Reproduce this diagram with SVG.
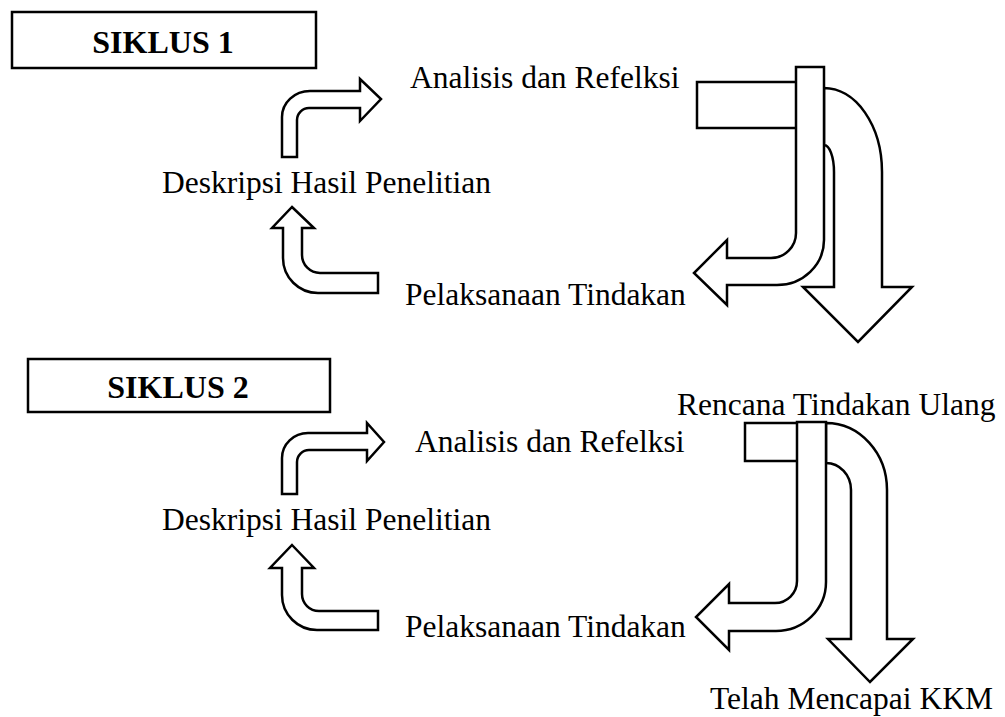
<svg xmlns="http://www.w3.org/2000/svg" width="1005" height="717" viewBox="0 0 1005 717">
<style>
.bg{fill:#fff}
.shape{fill:#fff;stroke:#000;stroke-width:2.5;stroke-linejoin:miter}
.box{fill:#fff;stroke:#000;stroke-width:2.5}
.t{font-family:"Liberation Serif","Times New Roman",serif;font-size:31.5px;fill:#000}
.tb{font-family:"Liberation Serif","Times New Roman",serif;font-size:32px;font-weight:bold;fill:#000;text-anchor:middle}
</style>
<rect class="bg" x="0" y="0" width="1005" height="717"/>

<g id="siklus1-title">
<rect class="box" x="12" y="12" width="304" height="56"/>
<text class="tb" x="163" y="53">SIKLUS 1</text>
</g>
<g id="s1-analisis"><text class="t" x="410" y="88">Analisis dan Refelksi</text></g>
<g id="s1-deskripsi"><text class="t" x="162" y="193">Deskripsi Hasil Penelitian</text></g>
<g id="s1-pelaksanaan"><text class="t" x="405" y="305">Pelaksanaan Tindakan</text></g>

<g id="siklus2-title">
<rect class="box" x="28" y="359" width="302" height="53"/>
<text class="tb" x="178" y="398">SIKLUS 2</text>
</g>
<g id="s2-rencana"><text class="t" x="677" y="415">Rencana Tindakan Ulang</text></g>
<g id="s2-analisis"><text class="t" x="415" y="452">Analisis dan Refelksi</text></g>
<g id="s2-deskripsi"><text class="t" x="162" y="530">Deskripsi Hasil Penelitian</text></g>
<g id="s2-pelaksanaan"><text class="t" x="405" y="637">Pelaksanaan Tindakan</text></g>
<g id="s2-kkm"><text class="t" x="710" y="709">Telah Mencapai KKM</text></g>

<g id="connectors">
<!-- Siklus 1 -->
<path class="shape" d="M282,157 L282,117 A28,26 0 0 1 310,91 L360,91 L360,79 L381,99 L360,121 L360,108 L309,108 A12,12 0 0 0 297,120 L297,157 Z"/>
<path class="shape" d="M292,207 L314,228 L302,228 L302,255 A18,18 0 0 0 320,273 L378,273 L378,293 L318,293 A35,35 0 0 1 283,258 L283,228 L272,228 Z"/>
<rect class="shape" x="697" y="82" width="110" height="46"/>
<path class="shape" d="M824,88 A58,84 0 0 1 882,172 L882,287 L912,287 L858,342 L803,287 L834,287 L834,172 A10,27 0 0 0 824,145 Z"/>
<path class="shape" d="M796,67 L824,67 L824,240 A47,45 0 0 1 777,285 L727,285 L727,305 L694,273 L727,240 L727,258 L771,258 A25,25 0 0 0 796,233 Z"/>
<!-- Siklus 2 -->
<path class="shape" d="M282,494 L282,458 A26,25 0 0 1 308,433 L367,433 L367,423 L384,442 L367,461 L367,450 L309,450 A12,12 0 0 0 297,462 L297,494 Z"/>
<path class="shape" d="M292,545 L314,568 L302,568 L302,594 A17,17 0 0 0 319,611 L378,611 L378,630 L317,630 A35,35 0 0 1 282,595 L282,568 L270,568 Z"/>
<rect class="shape" x="745" y="423" width="62" height="38"/>
<path class="shape" d="M826,423 A61,67 0 0 1 887,490 L887,639 L913,639 L870,682 L828,639 L851,639 L851,490 A25,27 0 0 0 826,463 Z"/>
<path class="shape" d="M797,422 L826,422 L826,582 A50,49 0 0 1 776,631 L729,631 L729,650 L696,617 L729,584 L729,603 L775,603 A22,22 0 0 0 797,581 Z"/>
</g>
</svg>
